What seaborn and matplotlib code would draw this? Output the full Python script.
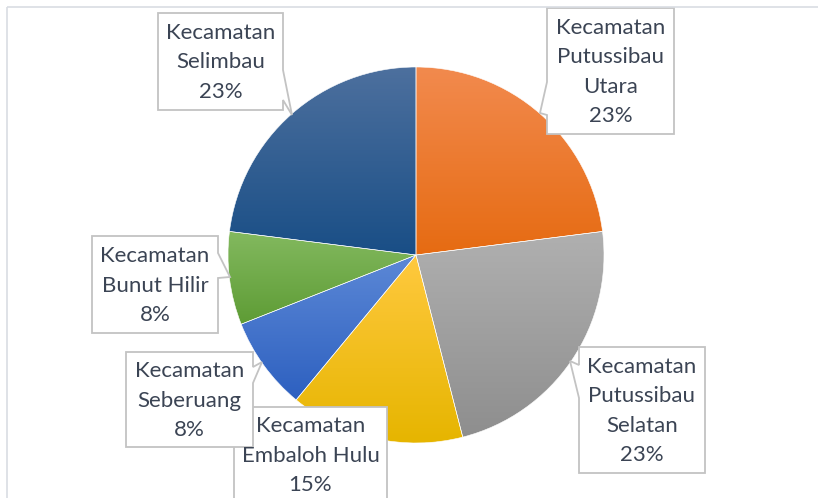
import numpy as np
import matplotlib
matplotlib.use("Agg")
import matplotlib.pyplot as plt
import seaborn as sns
from matplotlib.patches import Polygon, Rectangle
from matplotlib.colors import LinearSegmentedColormap

# data (urut searah jarum jam mulai dari atas)
kecamatan = ["Kecamatan\nPutussibau\nUtara", "Kecamatan\nPutussibau\nSelatan",
             "Kecamatan\nEmbaloh Hulu", "Kecamatan\nSeberuang",
             "Kecamatan\nBunut Hilir", "Kecamatan\nSelimbau"]
persen = [23, 23, 15, 8, 8, 23]

# warna gradasi tiap irisan (atas -> bawah)
warna_atas = ["#F28A4E", "#B0B0B0", "#FFC93F", "#5C88D6", "#83B95F", "#4D709E"]
warna_bawah = ["#E66B12", "#8E8E8E", "#E6B500", "#2D60C0", "#5E9C35", "#194E86"]

# kotak label: (x0, y0, x1, y1), sisi penunjuk, a, b, ujung, pusat teks y
kotak = [
    ((547, 8, 674, 134), "left", 82, 115, (540, 113), 72),
    ((579, 347, 705, 473), "left", 365, 398, (570, 361), 411),
    ((234, 407, 387, 515), None, 0, 0, None, 455.5),
    ((126, 352, 253, 447), "right", 367, 383, (262, 362), 400.5),
    ((92, 236, 218, 333), "right", 253, 278, (230, 277), 285.5),
    ((158, 13, 283, 110), "right", 70, 100, (292, 115), 62),
]

W, H = 818, 498
PUSAT = (416, 255)
JARI = 188
WARNA_TEKS = "#3B4454"
WARNA_GARIS = "#C3C3C3"

sns.set_theme(style="white")
plt.rcParams["font.family"] = ["Lato", "DejaVu Sans"]

fig = plt.figure(figsize=(W / 100, H / 100), dpi=100)
ax = fig.add_axes([0, 0, 1, 1])

# sumbu y terbalik -> counterclock=True & startangle=-90 tampak searah jarum jam dari atas
wedges, _ = ax.pie(persen, startangle=-90, counterclock=True, center=PUSAT, radius=JARI,
                   wedgeprops=dict(facecolor="none", edgecolor="white", linewidth=0.4))

for w, c1, c2 in zip(wedges, warna_atas, warna_bawah):
    t = np.radians(np.linspace(w.theta1, w.theta2, 200))
    xs = np.r_[PUSAT[0], PUSAT[0] + JARI * np.cos(t)]
    ys = np.r_[PUSAT[1], PUSAT[1] + JARI * np.sin(t)]
    cmap = LinearSegmentedColormap.from_list("g", [c1, c2])
    grad = np.linspace(0, 1, 256).reshape(-1, 1)
    im = ax.imshow(grad, cmap=cmap, aspect="auto", interpolation="bilinear",
                   extent=(xs.min(), xs.max(), ys.max(), ys.min()), zorder=0.5)
    im.set_clip_path(w)


def callout(box, side, a, b, tip):
    x0, y0, x1, y1 = box
    if side == "right":
        return [(x0, y0), (x1, y0), (x1, a), tip, (x1, b), (x1, y1), (x0, y1)]
    if side == "left":
        return [(x0, y0), (x1, y0), (x1, y1), (x0, y1), (x0, b), tip, (x0, a)]
    return [(x0, y0), (x1, y0), (x1, y1), (x0, y1)]


for nama, p, (box, side, a, b, tip, ty) in zip(kecamatan, persen, kotak):
    ax.add_patch(Polygon(callout(box, side, a, b, tip), closed=True, facecolor="white",
                         edgecolor=WARNA_GARIS, linewidth=1.3, zorder=3))
    baris = nama.split("\n") + [f"{p}%"]
    tx = (box[0] + box[2]) / 2
    for i, s in enumerate(baris):
        ax.text(tx, ty + (i - (len(baris) - 1) / 2) * 29.5, s, ha="center", va="center",
                fontsize=16, color=WARNA_TEKS, zorder=4)

# bingkai area grafik
ax.add_patch(Rectangle((7, 7), W + 20, H + 20, facecolor="none", edgecolor="#D9DDE3",
                       linewidth=1.2, zorder=5))

ax.set_xlim(0, W)
ax.set_ylim(H, 0)
ax.set_aspect("auto")
ax.axis("off")

fig.savefig("out.png", dpi=100)
